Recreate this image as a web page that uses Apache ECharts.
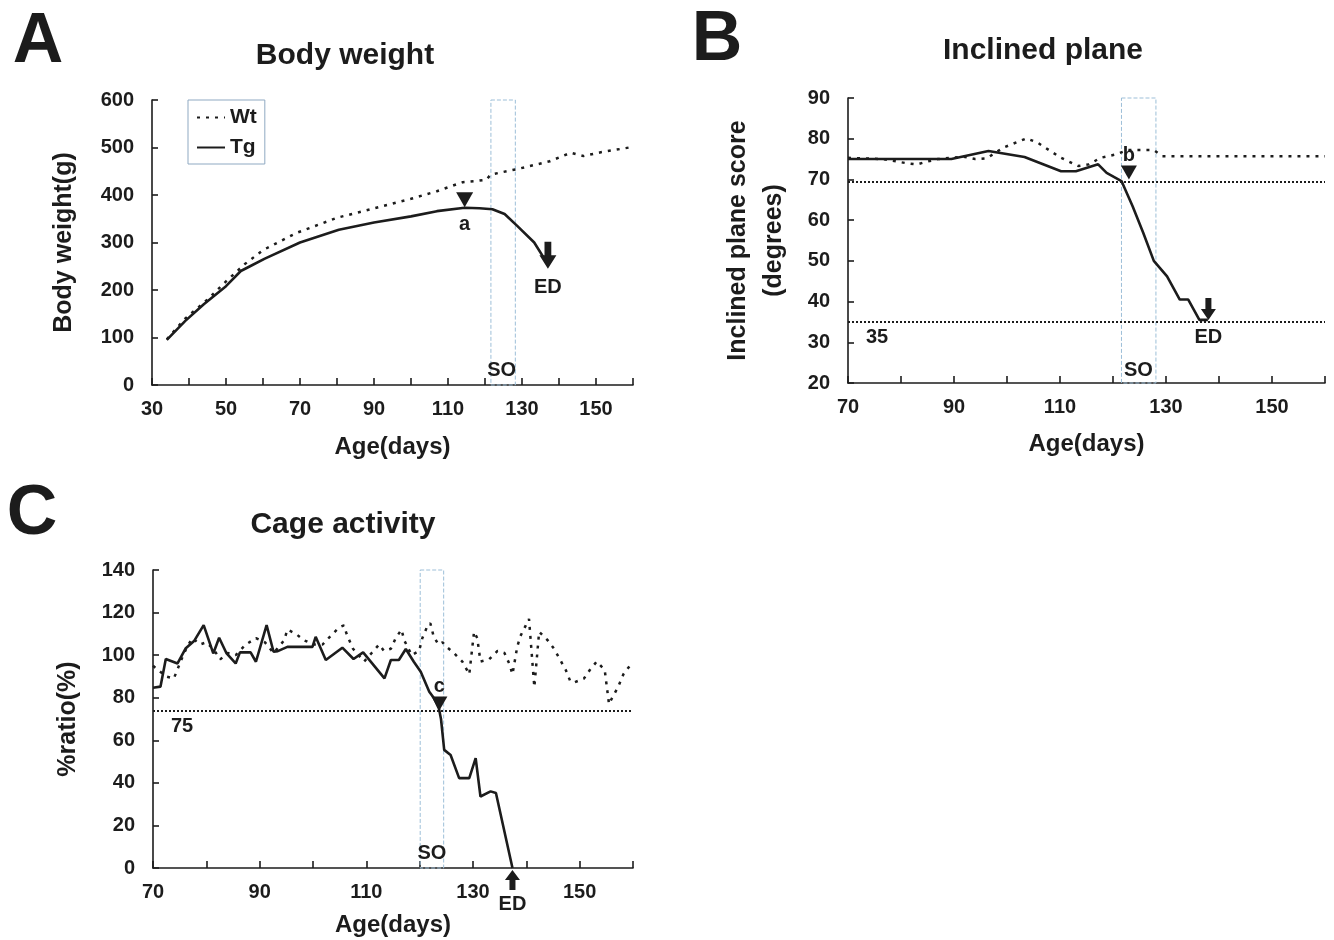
<!DOCTYPE html>
<html>
<head>
<meta charset="utf-8">
<script src="https://cdn.jsdelivr.net/npm/echarts@6/dist/echarts.min.js"></script>
<style>
  html, body { margin: 0; background: #fff; }
  #chart { width: 1334px; height: 940px; }
</style>
</head>
<body>
<div id="chart"></div>
<script>
// ---- data ----
// A: body weight (g)
const bwDaysWt = [34, 39, 45, 50, 55, 60, 69, 80, 90, 100, 107, 114, 117, 120.4, 121.5, 128.4, 137.5, 143.2, 146.6, 151.3, 159]
const bwWt     = [96, 140, 180, 218, 254, 284, 320, 352, 372, 392, 408, 427, 429, 432, 443, 454, 471, 489, 482, 490, 500]
const bwDaysTg = [34, 39, 44, 50, 54, 56.5, 60.5, 70, 80.5, 90, 100, 107, 114.5, 118.5, 122, 125.3, 128.7, 133.3, 137]
const bwTg     = [95, 135, 170, 208, 240, 250, 266, 300, 327, 342, 355, 366, 373, 372, 370, 360, 335, 300, 254]

// B: inclined plane score (degrees)
const ipDaysWt = [70, 76.5, 81, 83, 85, 87, 91.7, 94, 96.2, 99.3, 103.7, 105.8, 110.2, 113.4, 115.5, 117.6, 120.4, 122.8, 127.7, 129.3, 160]
const ipWt     = [75.3, 75, 74, 73.7, 74.4, 75, 75.6, 75, 75.2, 77.8, 80.1, 79, 75.3, 73.3, 73.7, 75.3, 76.1, 77.2, 77.2, 75.7, 75.7]
const ipDaysTg = [70, 89.5, 96.5, 103.3, 110.2, 113, 117.2, 118.8, 121.6, 123.7, 125.7, 127.7, 130.2, 132.6, 134.2, 136.3, 137.9]
const ipTg     = [75, 75, 77, 75.5, 72, 72, 73.7, 71.6, 69.6, 63.4, 56.9, 50, 46.2, 40.5, 40.5, 35.5, 35.5]

// C: cage activity (% ratio)
const caDaysWt = [70, 71, 72.4, 73.9, 75.5, 76.4, 77.4, 78.8, 80, 81.3, 82.6, 84, 85.5, 87.4, 89.3, 91, 92.6, 94.6, 95.2, 96.8,
  98.3, 100.2, 101.8, 103.3, 104.9, 105.8, 106.3, 107.5, 109.6, 111, 112.4, 113.3, 114.6, 115.5, 116.6, 117.1, 118.5, 119.9, 120.5, 121.5,
  122, 122.6, 123.5, 124.3, 125, 126.4, 128, 129.3, 130.2, 130.8, 131.4, 133, 134.6, 135.9, 136.8, 137.4, 138.3, 138.9, 139.9, 140.5,
  141.5, 142.4, 144, 145.2, 146.3, 147.4, 148.2, 148.8, 150.8, 151.9, 153.2, 154.7, 155.5, 156.1, 157.2, 158.2, 159.4]
const caWt     = [95, 93, 90, 89, 99, 104, 108, 105, 106, 103, 98, 101, 100, 105, 108, 106, 101, 107, 112, 110,
  107, 105, 105, 109, 113, 114, 110, 103, 97, 101, 105, 102, 103, 108, 112, 107, 100, 102, 108, 114,
  115, 109, 105, 106, 104, 101, 97, 91, 111, 108, 97, 98, 102, 101, 96, 91, 104, 109, 114, 117,
  85, 111, 107, 103, 98, 93, 88, 87, 89, 93, 97, 93, 77, 80, 85, 91, 95]
const caDaysTg = [70, 71.4, 72.4, 74.6, 76.1, 77.7, 79.5, 81.3, 82.4, 83.8, 85.5, 86.3, 88.3, 89.3, 91.3, 92.6, 93.4, 95.2, 99.9, 100.5,
  102.4, 105.5, 107.6, 109.4, 113.4, 114.6, 116.1, 117.4, 118.9, 120.2, 121.8, 122.7, 123.6, 124, 124.6, 125.8, 127.4, 129.3, 130.5, 131.4,
  133.3, 134.3, 137.4]
const caTg     = [84.7, 85.2, 98.2, 96.1, 103.1, 106.6, 114.1, 100.8, 108.2, 100.8, 96.1, 101.3, 101.3, 96.9, 114.1, 101.6, 101.9, 103.9, 103.9, 108.6,
  97.7, 103.5, 98.2, 101.3, 89.1, 97.7, 97.7, 102.9, 96.9, 92.2, 82.8, 79.7, 75, 70, 55.5, 53.1, 42.2, 42.2, 51.6, 33.6,
  36, 35.2, 0]

// axis tick labels
const ageLabelsA = [30, 50, 70, 90, 110, 130, 150]
const ageLabelsBC = [70, 90, 110, 130, 150]

// annotations: [day, value]
const onsetA = [114.5, 373], endA = [137, 246], soA = [121.6, 128.2]
const onsetB = [123, 70], endB = [138, 35.5], soB = [121.6, 128.1]
const onsetC = [123.7, 74], endC = [137.4, 0], soC = [120.1, 124.5]
const cutB = [69.5, 35], cutC = [74]

// ---- helpers ----
const FONT = 'Liberation Sans'
const INK = '#1c1c1c'
const TRI_DOWN = 'path://M0,0 L10,0 L5,9 Z'
const ARROW_DOWN = 'path://M3,0 L7,0 L7,7 L10,7 L5,14 L0,7 L3,7 Z'
const ARROW_UP = 'path://M5,0 L10,7 L7,7 L7,14 L3,14 L3,7 L0,7 Z'

function pairs(xs, ys) {
  return xs.map((x, i) => [x, ys[i]])
}

const txt = { color: INK, fontFamily: FONT, fontWeight: 'bold', fontSize: 20 }

function xAxisOf(gridIndex, min, labels, nameGap) {
  return {
    gridIndex, type: 'value', min, max: 160, interval: 10,
    axisLine: { show: true, onZero: false, lineStyle: { color: INK, width: 1.6 } },
    axisTick: { show: true, inside: true, length: 7, lineStyle: { color: INK, width: 1.6 } },
    splitLine: { show: false },
    axisLabel: { ...txt, margin: 14, formatter: v => labels.includes(v) ? String(v) : '' },
    name: 'Age(days)', nameLocation: 'middle', nameGap,
    nameTextStyle: { ...txt, fontSize: 24 }
  }
}

function yAxisOf(gridIndex, min, max, interval, name, nameGap, extra) {
  return {
    gridIndex, type: 'value', min, max, interval,
    axisLine: { show: true, onZero: false, lineStyle: { color: INK, width: 1.6 } },
    axisTick: { show: true, inside: true, length: 6, lineStyle: { color: INK, width: 1.6 } },
    splitLine: { show: false },
    axisLabel: { ...txt, margin: 18 },
    name, nameLocation: 'middle', nameGap,
    nameTextStyle: { ...txt, fontSize: 25, ...(extra || {}) }
  }
}

function wtSeries(idx, xs, ys) {
  return {
    name: 'Wt', type: 'line', xAxisIndex: idx, yAxisIndex: idx,
    data: pairs(xs, ys), symbol: 'none',
    lineStyle: { color: INK, width: 2.5, type: [3, 6] },
    itemStyle: { color: INK },
    z: 3
  }
}

function soBox(range, yTop, yBottom) {
  return {
    silent: true,
    itemStyle: { color: 'rgba(0,0,0,0)', borderColor: '#9dbfd8', borderWidth: 1, borderType: 'dashed' },
    data: [[{ coord: [range[0], yTop] }, { coord: [range[1], yBottom] }]]
  }
}

function textPoint(coord, text) {
  return {
    coord, symbol: 'circle', symbolSize: 1, itemStyle: { color: 'rgba(0,0,0,0)' },
    label: { show: true, position: 'inside', formatter: text, ...txt }
  }
}

function cutLines(values, labels) {
  return {
    silent: true, symbol: ['none', 'none'],
    lineStyle: { color: INK, width: 2.2, type: [2, 2] },
    label: { show: false },
    data: values.map((v, i) => labels[i]
      ? { yAxis: v, label: { show: true, formatter: labels[i], position: 'insideStartBottom', distance: [18, 6], ...txt } }
      : { yAxis: v })
  }
}

function letter(x, y, text, size) {
  return {
    type: 'text', x, y,
    style: { text, font: 'bold ' + size + 'px "Liberation Sans"', fill: INK, align: 'center', verticalAlign: 'middle' }
  }
}

const chart = echarts.init(document.getElementById('chart'))

const option = {
  backgroundColor: '#fff',
  animation: false,
  grid: [
    { left: 152, top: 100, width: 481, height: 285 },
    { left: 848, top: 98, width: 477, height: 285 },
    { left: 153, top: 570, width: 480, height: 298 }
  ],
  legend: {
    data: ['Wt', 'Tg'], orient: 'vertical', left: 188, top: 100,
    itemWidth: 28, itemHeight: 14, itemGap: 9,
    padding: [7, 8, 6, 8],
    borderColor: '#8fa9c2', borderWidth: 1,
    itemStyle: { opacity: 0 },
    textStyle: { ...txt, fontSize: 21 }
  },
  graphic: [
    letter(38, 43, 'A', 70),
    letter(717, 41, 'B', 70),
    letter(32, 515, 'C', 70),
    letter(345, 56, 'Body weight', 30),
    letter(1043, 51, 'Inclined plane', 30),
    letter(343, 525, 'Cage activity', 30)
  ],
  xAxis: [
    xAxisOf(0, 30, ageLabelsA, 50),
    xAxisOf(1, 70, ageLabelsBC, 49),
    xAxisOf(2, 70, ageLabelsBC, 45)
  ],
  yAxis: [
    yAxisOf(0, 0, 600, 100, 'Body weight(g)', 75),
    yAxisOf(1, 20, 90, 10, 'Inclined plane score\n(degrees)', 56, { lineHeight: 36 }),
    yAxisOf(2, 0, 140, 20, '%ratio(%)', 72)
  ],
  series: [
    wtSeries(0, bwDaysWt, bwWt),
    {
      name: 'Tg', type: 'line', xAxisIndex: 0, yAxisIndex: 0, clip: false,
      data: pairs(bwDaysTg, bwTg), symbol: 'none',
      lineStyle: { color: INK, width: 2.6 }, itemStyle: { color: INK }, z: 4,
      markArea: soBox(soA, 625, -15),
      markPoint: {
        silent: true,
        data: [
          { coord: onsetA, symbol: TRI_DOWN, symbolSize: [17, 15], symbolOffset: [0, -8], itemStyle: { color: INK },
            label: { show: true, formatter: 'a', position: 'bottom', distance: 7, ...txt } },
          { coord: endA, symbol: ARROW_DOWN, symbolSize: [17, 27], symbolOffset: [0, -13], itemStyle: { color: INK },
            label: { show: true, formatter: 'ED', position: 'bottom', distance: 9, ...txt } },
          textPoint([124.5, 31], 'SO')
        ]
      }
    },
    wtSeries(1, ipDaysWt, ipWt),
    {
      name: 'Tg', type: 'line', xAxisIndex: 1, yAxisIndex: 1, clip: false,
      data: pairs(ipDaysTg, ipTg), symbol: 'none',
      lineStyle: { color: INK, width: 2.6 }, itemStyle: { color: INK }, z: 4,
      markArea: soBox(soB, 92.5, 18.2),
      markLine: cutLines(cutB, ['', '35']),
      markPoint: {
        silent: true,
        data: [
          { coord: onsetB, symbol: TRI_DOWN, symbolSize: [16, 14], symbolOffset: [0, -7], itemStyle: { color: INK },
            label: { show: true, formatter: 'b', position: 'top', distance: 0, ...txt } },
          { coord: endB, symbol: ARROW_DOWN, symbolSize: [15, 22], symbolOffset: [0, -11], itemStyle: { color: INK },
            label: { show: true, formatter: 'ED', position: 'bottom', distance: 8, ...txt } },
          textPoint([124.8, 23], 'SO')
        ]
      }
    },
    wtSeries(2, caDaysWt, caWt),
    {
      name: 'Tg', type: 'line', xAxisIndex: 2, yAxisIndex: 2, clip: false,
      data: pairs(caDaysTg, caTg), symbol: 'none',
      lineStyle: { color: INK, width: 2.6 }, itemStyle: { color: INK }, z: 4,
      markArea: soBox(soC, 140, -2.5),
      markLine: cutLines(cutC, ['75']),
      markPoint: {
        silent: true,
        data: [
          { coord: onsetC, symbol: TRI_DOWN, symbolSize: [16, 14], symbolOffset: [0, -7], itemStyle: { color: INK },
            label: { show: true, formatter: 'c', position: 'top', distance: 0, ...txt } },
          { coord: endC, symbol: ARROW_UP, symbolSize: [15, 20], symbolOffset: [0, 12], itemStyle: { color: INK },
            label: { show: true, formatter: 'ED', position: 'bottom', distance: 4, ...txt } },
          textPoint([122.3, 7], 'SO')
        ]
      }
    }
  ]
}

chart.setOption(option)
</script>
</body>
</html>
